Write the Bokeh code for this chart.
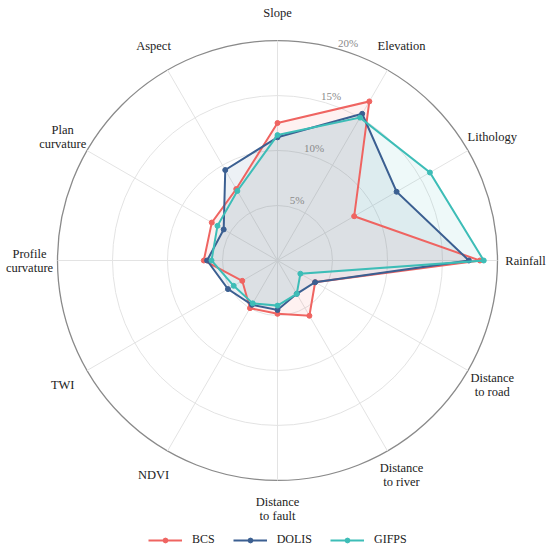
import numpy as np
from bokeh.plotting import figure
from bokeh.models import Legend, LegendItem, Range1d
from bokeh.core.properties import value
from bokeh.embed import file_html
from bokeh.resources import INLINE

# ---- data ----
categories = ["Slope", "Elevation", "Lithology", "Rainfall", "Distance\nto road",
              "Distance\nto river", "Distance\nto fault", "NDVI", "TWI",
              "Profile\ncurvature", "Plan\ncurvature", "Aspect"]
bcs = [12.5, 16.7, 8.05, 18.4, 3.95, 5.8, 4.85, 5.0, 3.7, 6.7, 6.9, 7.5]
dolis = [11.2, 15.4, 12.5, 17.4, 3.95, 3.5, 4.5, 4.65, 5.2, 6.4, 5.65, 9.5]
gifps = [11.4, 15.0, 16.0, 18.75, 2.4, 3.5, 4.1, 4.5, 4.6, 6.0, 6.3, 7.3]
series_names = ["BCS", "DOLIS", "GIFPS"]
ring_values = [5, 10, 15, 20]
ring_labels = ["5%", "10%", "15%", "20%"]

colors = ["#EF6461", "#3B5F91", "#3DBDB7"]
FONT = "Liberation Serif"

W, H = 550, 553
PX = 11.0            # pixels per percent
CX, CY = 277, 260    # centre in figure pixels
RMAX = 20

p = figure(width=W, height=H, output_backend="svg", toolbar_location=None,
           x_range=Range1d(-CX / PX, (W - CX) / PX),
           y_range=Range1d(-(H - CY) / PX, CY / PX),
           min_border=0, outline_line_color=None)
p.axis.visible = False
p.grid.visible = False
p.background_fill_color = "white"

n = len(categories)
ang = np.deg2rad(90 - 30 * np.arange(n))

# grid rings
p.circle(x=[0, 0, 0], y=[0, 0, 0], radius=ring_values[:3], fill_color=None,
         line_color="#E3E3E3", line_width=1)
p.circle(x=[0], y=[0], radius=[RMAX], fill_color=None,
         line_color="#8A8A8A", line_width=1.3)
# spokes
p.segment(x0=np.zeros(n), y0=np.zeros(n), x1=RMAX * np.cos(ang), y1=RMAX * np.sin(ang),
          line_color="#E3E3E3", line_width=1)

items = []
for name, vals, col in zip(series_names, [bcs, dolis, gifps], colors):
    v = np.array(vals)
    xs = v * np.cos(ang)
    ys = v * np.sin(ang)
    p.patch(x=list(xs), y=list(ys), fill_color=col, fill_alpha=0.09,
            line_color=None)
for name, vals, col in zip(series_names, [bcs, dolis, gifps], colors):
    v = np.array(vals)
    xs = list(v * np.cos(ang)) + [v[0] * np.cos(ang[0])]
    ys = list(v * np.sin(ang)) + [v[0] * np.sin(ang[0])]
    lr = p.line(x=xs, y=ys, line_color=col, line_width=2, line_join="miter")
    sr = p.scatter(x=xs[:-1], y=ys[:-1], size=5, fill_color=col, line_color=col)
    items.append(LegendItem(label=name, renderers=[lr, sr]))

# ring tick labels
ta = np.deg2rad(72)
off = 0.77
p.text(x=[(r + off) * np.cos(ta) for r in ring_values],
       y=[(r + off) * np.sin(ta) for r in ring_values],
       text=ring_labels, text_font=value(FONT), text_font_size="11px",
       text_color="#8A8A8A", text_align="center", text_baseline="middle")

# category labels
RL = 248 / PX
p.text(x=RL * np.cos(ang), y=RL * np.sin(ang), text=categories,
       text_font=value(FONT), text_font_size="12.5px", text_color="#222222",
       text_align="center", text_baseline="middle", text_line_height=1.0)

legend = Legend(items=items, orientation="horizontal", location=(148, 6),
                glyph_width=34, glyph_height=12, label_standoff=10, spacing=18,
                padding=0, margin=0, label_text_font=FONT,
                label_text_font_size="12px", label_text_color="#222222",
                label_height=12, border_line_color=None, background_fill_alpha=0)
p.add_layout(legend, "center")

open("out.html", "w").write(file_html(p, INLINE))
